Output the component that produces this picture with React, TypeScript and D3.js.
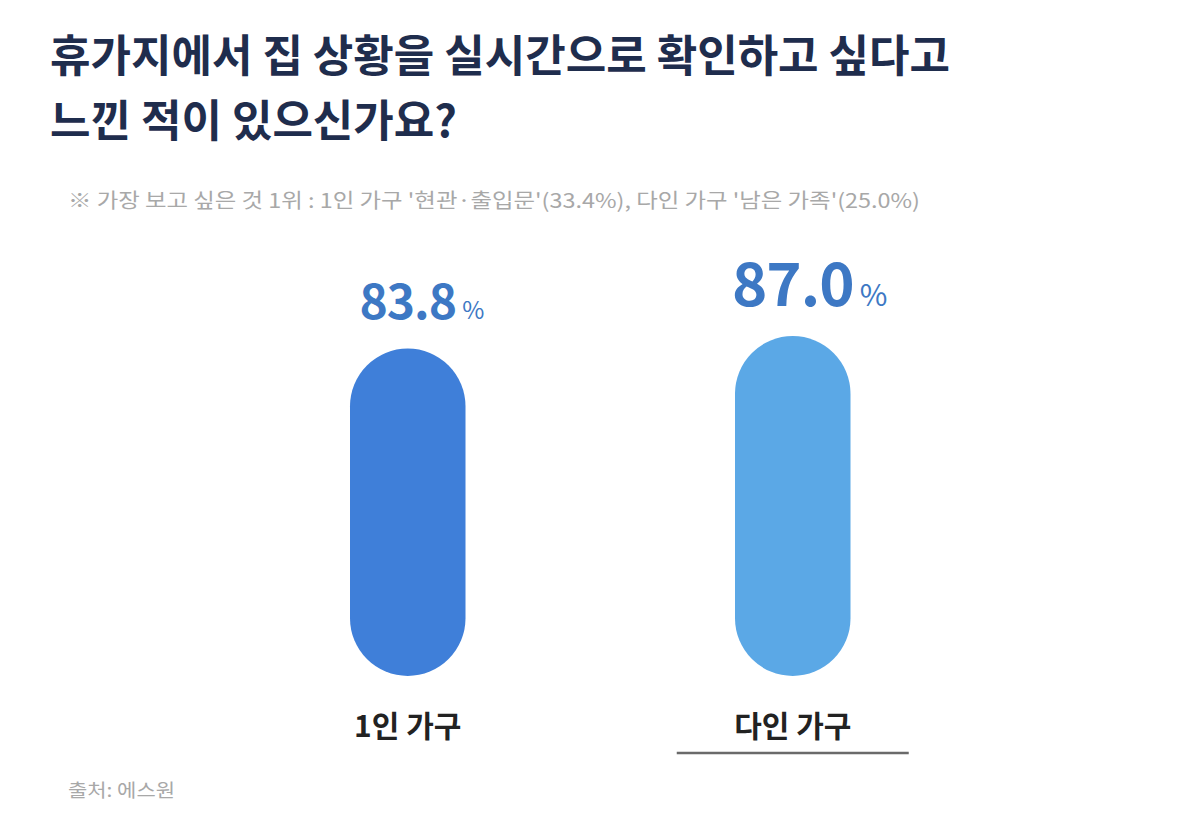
import React from "react";
import * as d3 from "d3";

const titleLines = ["휴가지에서 집 상황을 실시간으로 확인하고 싶다고", "느낀 적이 있으신가요?"];
const subtitle = "※ 가장 보고 싶은 것 1위 : 1인 가구 '현관·출입문'(33.4%), 다인 가구 '남은 가족'(25.0%)";
const categories = ["1인 가구", "다인 가구"];
const values = [83.8, 87.0];
const colors = ["#3f7fd9", "#5ba8e6"];
const labelSizes = [48, 60];
const source = "출처: 에스원";

const W = 1200;
const H = 825;
const FONT = "'Noto Sans CJK KR', 'Noto Sans', sans-serif";

export default function App() {
  const x = d3.scaleBand<string>().domain(categories).range([350, 850.5]).paddingInner(0.7).paddingOuter(0);
  const y = d3.scaleLinear().domain([0, 87.0]).range([676, 336]);
  const bw = x.bandwidth();

  return (
    <svg width={W} height={H} style={{ position: "absolute", left: 0, top: 0, background: "#fff" }}>
      <rect width={W} height={H} fill="#fff" />
      <text x={50} y={72} fontFamily={FONT} fontWeight={700} fontSize={44} fill="#1f2d4d">
        {titleLines.map((t, i) => (
          <tspan key={i} x={50} dy={i === 0 ? 0 : 65}>
            {t}
          </tspan>
        ))}
      </text>
      <text x={68} y={208} fontFamily={FONT} fontSize={20} fill="#a8a8a8" textLength={852} lengthAdjust="spacingAndGlyphs">
        {subtitle}
      </text>
      {categories.map((c, i) => {
        const cx = (x(c) as number) + bw / 2;
        const top = y(values[i]);
        const h = y(0) - top;
        const fs = labelSizes[i];
        return (
          <g key={c}>
            <rect x={x(c)} y={top} width={bw} height={h} rx={bw / 2} ry={bw / 2} fill={colors[i]} />
            <text x={cx} y={top - 30} textAnchor="middle" fontFamily={FONT} fontWeight={700} fontSize={fs} fill="#3d78c4" letterSpacing={-1}>
              {values[i].toFixed(1)}
            </text>
            <text x={cx + fs * 1.05 + 4} y={top - 30} fontFamily={FONT} fontSize={fs * 0.5} fill="#3d78c4">
              %
            </text>
            <text x={cx} y={737} textAnchor="middle" fontFamily={FONT} fontWeight={700} fontSize={30} fill="#222">
              {c}
            </text>
          </g>
        );
      })}
      {(() => {
        const c = categories[1];
        const cx = (x(c) as number) + bw / 2;
        return <line x1={cx - 116} x2={cx + 116} y1={753} y2={753} stroke="#6a6a6a" strokeWidth={2.5} />;
      })()}
      <text x={68} y={797} fontFamily={FONT} fontSize={18} fill="#a8a8a8" textLength={107} lengthAdjust="spacingAndGlyphs">
        {source}
      </text>
    </svg>
  );
}
